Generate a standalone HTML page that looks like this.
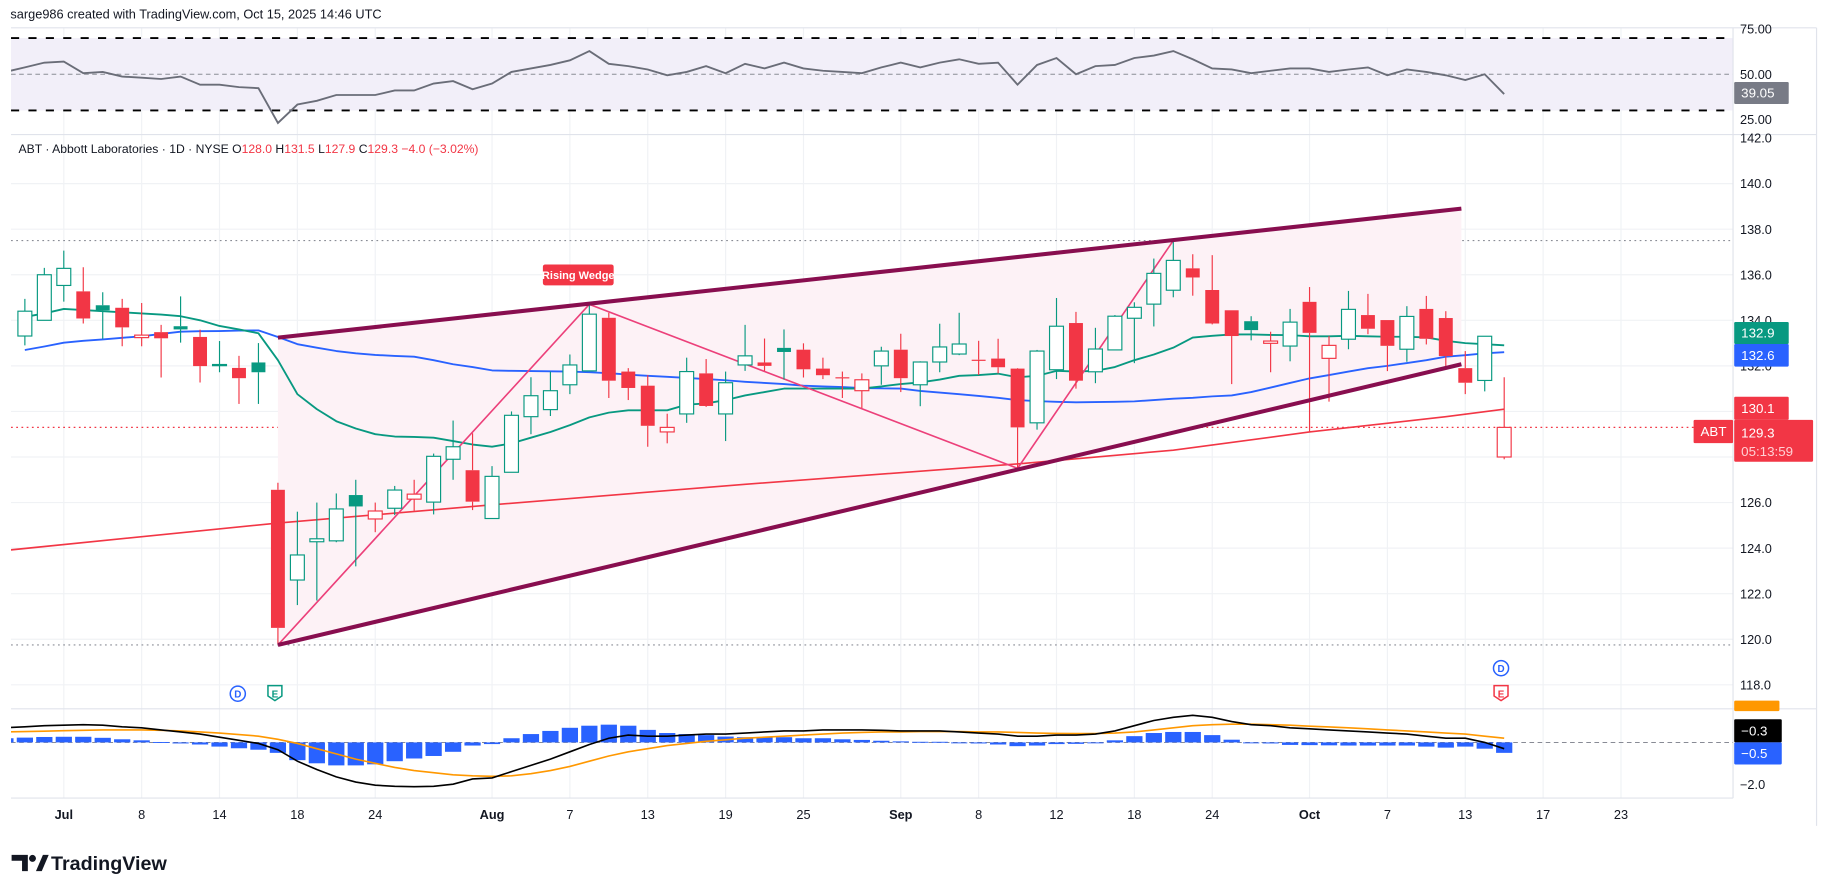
<!DOCTYPE html>
<html><head><meta charset="utf-8">
<style>
html,body{margin:0;padding:0;background:#fff;}
svg{display:block;font-family:"Liberation Sans",sans-serif;}
</style></head>
<body>
<svg id="chart" width="1827" height="896" viewBox="0 0 1575 772.4" preserveAspectRatio="none" xmlns="http://www.w3.org/2000/svg">
<defs><clipPath id="plotclip"><rect x="9.5" y="24" width="1484.5" height="664"/></clipPath></defs>
<rect x="0" y="0" width="1575" height="772.4" fill="#fff"/>
<text x="9" y="16" font-size="11" fill="#131722">sarge986 created with TradingView.com, Oct 15, 2025 14:46 UTC</text>
<g id="grid"></g>
<rect x="9.5" y="32.8" width="1484.5" height="62.4" fill="#f2eff9"/>
<g id="rsi" clip-path="url(#plotclip)"></g>
<line x1="9.5" y1="116" x2="1566" y2="116" stroke="#e0e3eb" stroke-width="1"/>
<line x1="9.5" y1="24" x2="1566" y2="24" stroke="#e0e3eb" stroke-width="1"/>
<line x1="9.5" y1="611" x2="1566" y2="611" stroke="#e0e3eb" stroke-width="1"/>
<line x1="9.5" y1="688" x2="1494" y2="688" stroke="#e0e3eb" stroke-width="1"/>
<line x1="1494" y1="24" x2="1494" y2="688" stroke="#e0e3eb" stroke-width="1"/>
<line x1="1566" y1="24" x2="1566" y2="712" stroke="#e0e3eb" stroke-width="1"/>
<g id="main" clip-path="url(#plotclip)"></g>
<g id="macd" clip-path="url(#plotclip)"></g>
<g id="axes"></g>
<text x="16" y="132" font-size="10.5" fill="#131722">ABT · Abbott Laboratories · 1D · NYSE  <tspan>O</tspan><tspan fill="#f23645">128.0</tspan><tspan>  H</tspan><tspan fill="#f23645">131.5</tspan><tspan>  L</tspan><tspan fill="#f23645">127.9</tspan><tspan>  C</tspan><tspan fill="#f23645">129.3  −4.0 (−3.02%)</tspan></text>
<g>
<path d="M10 737 h14 v14 h-5 v-9 h-9 z" fill="#131722"/><circle cx="28" cy="740" r="3" fill="#131722"/><path d="M31 751 l6 -14 h5 l-6 14 z" fill="#131722"/>
<text x="44" y="750" font-size="17" font-weight="bold" fill="#131722">TradingView</text></g>
</svg>
<script>
const NS="http://www.w3.org/2000/svg";
const candleStart=-2;
const opens=[133.31,134.0,135.53,135.27,134.66,134.55,133.24,133.48,133.74,133.27,132.03,131.91,132.15,126.56,122.6,124.28,124.32,126.33,125.28,125.75,126.15,126.02,127.9,127.42,125.3,127.33,129.77,130.08,131.17,131.78,134.11,131.75,131.13,129.1,129.89,131.67,129.89,132.04,132.15,132.79,132.71,131.88,131.5,130.91,132.0,132.71,131.17,132.17,132.52,132.27,132.32,131.88,129.5,131.83,133.88,131.74,132.70,134.09,134.71,135.32,136.28,135.33,134.44,133.96,132.99,132.87,134.81,132.33,133.17,134.23,134.01,132.73,134.5,134.1,131.9,131.36,128.0];
const highs=[134.94,136.3,137.06,136.33,135.23,134.94,134.76,133.80,135.05,133.59,133.09,132.44,133.0,126.87,125.6,126.0,126.4,127.0,126.0,126.73,127.0,128.15,129.6,129.04,127.6,130.0,131.5,131.75,132.5,134.69,134.33,131.9,131.6,129.9,132.36,132.3,131.75,133.8,133.2,133.6,132.99,132.36,131.75,131.67,132.84,133.41,132.2,133.85,134.33,133.1,133.19,131.9,132.7,134.98,134.37,133.67,134.23,134.79,136.71,137.5,136.9,136.86,134.44,134.18,133.5,134.5,135.46,133.31,135.29,135.16,134.01,134.62,135.07,134.4,132.65,133.3,131.5];
const lows=[132.90,134.0,134.82,133.86,133.19,132.86,132.86,131.49,133.02,131.27,131.72,130.33,130.33,119.8,121.5,121.7,124.26,123.2,124.7,125.45,125.64,125.48,127.0,125.67,125.3,127.33,129.0,129.8,130.76,131.78,130.59,130.5,128.45,128.6,129.5,130.2,128.7,131.78,131.78,131.4,131.49,131.42,130.59,130.15,131.17,130.85,130.23,131.72,132.47,131.6,131.67,127.5,129.2,131.42,131.0,131.24,132.7,132.12,133.73,135.01,135.08,133.82,131.2,133.12,131.72,132.2,129.1,130.43,132.73,133.39,131.77,132.18,132.94,131.96,130.76,130.88,127.9];
const closes=[134.40,136.0,136.28,134.08,134.44,133.69,133.35,133.21,133.60,131.99,132.06,131.46,131.72,120.5,123.7,124.41,125.72,125.83,125.63,126.55,126.37,128.03,128.45,126.04,127.15,129.83,130.69,130.91,132.04,134.27,131.35,131.03,129.37,129.3,131.75,130.24,131.26,132.44,132.0,132.61,131.85,131.59,131.46,131.39,132.65,131.46,132.17,132.83,132.96,132.24,131.94,129.3,132.65,133.74,131.35,132.74,134.18,134.57,136.06,136.63,135.88,133.86,133.31,133.57,133.09,133.92,133.45,132.9,134.48,133.63,132.88,134.17,133.19,132.43,131.26,133.3,129.3];
const emaGreen=[134.15,134.3,134.5,134.45,134.4,134.35,134.3,134.25,134.18,134.0,133.75,133.6,133.43,132.25,130.76,130.1,129.57,129.25,129.0,128.9,128.88,128.85,128.7,128.55,128.45,128.6,128.85,129.1,129.4,129.74,129.95,130.05,130.05,130.05,130.3,130.35,130.5,130.7,130.85,131.0,131.0,131.0,131.0,131.0,131.1,131.2,131.27,131.4,131.56,131.6,131.66,131.5,131.56,131.78,131.75,131.78,131.95,132.25,132.5,132.8,133.24,133.32,133.38,133.38,133.36,133.35,133.3,133.3,133.32,133.3,133.28,133.28,133.25,133.1,133.0,132.95,132.9];
const smaBlue=[132.7,132.85,133.02,133.1,133.16,133.23,133.3,133.4,133.5,133.52,133.53,133.55,133.56,133.27,132.95,132.8,132.65,132.55,132.48,132.44,132.4,132.25,132.07,131.95,131.8,131.78,131.77,131.76,131.75,131.72,131.68,131.62,131.56,131.52,131.47,131.42,131.37,131.3,131.25,131.2,131.13,131.1,131.07,131.03,131.01,131.0,130.9,130.83,130.76,130.68,130.6,130.5,130.45,130.42,130.4,130.41,130.42,130.44,130.5,130.56,130.6,130.66,130.7,130.85,131.05,131.25,131.45,131.6,131.75,131.9,132.0,132.12,132.25,132.4,132.47,132.55,132.6];
const sma200Idx=[-3,11,22,35,49,57,64,71,74];
const sma200Val=[123.9,125.1,125.9,126.8,127.7,128.3,129.1,129.77,130.1];
const indStart=-3;
const rsiValues=[51.3,53.8,56.4,57,50.6,51.3,48.7,48.1,47.4,48.7,44.2,44.2,42.9,42.3,23.1,33.3,35.3,38.5,38.5,38.5,41,41,44.9,46.2,41.7,44.9,51.3,53.2,55.1,57.7,62.8,55.8,54.5,52.6,49.4,51.3,54.5,50.6,55.8,53.2,56.4,53.2,51.9,51.3,50.6,53.8,56.4,53.8,56.4,58.3,55.8,56.4,44.2,55.1,59,50,54.5,55.1,59,60.3,62.8,58.3,53.2,52.6,50.6,51.9,53.2,53.2,51.3,52.6,53.8,49.4,52.6,51.3,49.4,46.8,50,39.05];
const macdValues=[0.7,0.75,0.8,0.83,0.85,0.82,0.75,0.7,0.6,0.5,0.4,0.25,0.1,-0.05,-0.35,-0.9,-1.3,-1.65,-1.9,-2.05,-2.1,-2.12,-2.1,-2.0,-1.75,-1.7,-1.4,-1.1,-0.8,-0.45,-0.1,0.2,0.35,0.3,0.3,0.35,0.4,0.4,0.45,0.5,0.55,0.55,0.6,0.6,0.6,0.58,0.55,0.55,0.55,0.5,0.45,0.4,0.3,0.3,0.35,0.35,0.4,0.55,0.8,1.05,1.2,1.3,1.2,1.0,0.85,0.8,0.7,0.65,0.6,0.55,0.5,0.45,0.4,0.3,0.2,0.2,0.0,-0.3];
const signalValues=[0.5,0.52,0.54,0.56,0.58,0.6,0.6,0.6,0.58,0.55,0.5,0.45,0.38,0.3,0.15,-0.05,-0.3,-0.55,-0.8,-1.0,-1.2,-1.35,-1.45,-1.55,-1.6,-1.62,-1.6,-1.5,-1.35,-1.15,-0.9,-0.65,-0.45,-0.3,-0.15,-0.05,0.05,0.12,0.2,0.25,0.3,0.35,0.4,0.45,0.48,0.5,0.5,0.52,0.52,0.52,0.5,0.5,0.48,0.45,0.43,0.42,0.42,0.45,0.5,0.6,0.7,0.8,0.85,0.87,0.87,0.85,0.82,0.78,0.74,0.7,0.65,0.6,0.55,0.5,0.45,0.4,0.3,0.2];
const histValues=[0.2,0.23,0.26,0.27,0.27,0.22,0.15,0.1,0.02,-0.05,-0.1,-0.2,-0.28,-0.35,-0.5,-0.85,-1.0,-1.1,-1.1,-1.05,-0.9,-0.77,-0.65,-0.45,-0.15,-0.08,0.2,0.4,0.55,0.7,0.8,0.85,0.8,0.6,0.45,0.4,0.35,0.28,0.25,0.25,0.25,0.2,0.2,0.15,0.12,0.08,0.05,0.03,0.03,-0.02,-0.05,-0.1,-0.18,-0.15,-0.08,-0.07,-0.02,0.1,0.3,0.45,0.5,0.5,0.35,0.13,-0.02,-0.05,-0.12,-0.13,-0.14,-0.15,-0.15,-0.15,-0.15,-0.2,-0.25,-0.2,-0.3,-0.5];
const priceTicks=[142,140,138,136,134,132,130,128,126,124,122,120,118];
const dateTickIdx=[0,4,8,12,16,22,26,30,34,38,43,47,51,55,59,64,68,72,76,80];
const dateTickLabels=["Jul","8","14","18","24","Aug","7","13","19","25","Sep","8","12","18","24","Oct","7","13","17","23"];
const rsiTicks=[75,50,25];
const rsiTickLabels=["75.00","50.00","25.00"];
const wedgeUpper=[[11,133.24],[71.8,138.9]];
const wedgeLower=[[11,119.75],[71.8,132.07]];
const zigzag=[[11,119.75],[27,134.7],[49,127.5],[57,137.5]];
const X=i=>55+i*16.78;
const Y=p=>119+(142-p)*19.64;
const RY=v=>64-(v-50)*1.56;
const MY=v=>640-v*18;
function el(tag,attrs,parent){const e=document.createElementNS(NS,tag);for(const k in attrs)e.setAttribute(k,attrs[k]);parent.appendChild(e);return e;}
const grid=document.getElementById('grid'),main=document.getElementById('main'),rsiG=document.getElementById('rsi'),macdG=document.getElementById('macd'),axes=document.getElementById('axes');
dateTickIdx.forEach((d,k)=>{const l=el('line',{x1:X(d),x2:X(d),y1:24,y2:688,stroke:'#f0f2f5','stroke-width':1},grid);


const t=el('text',{x:X(d),y:706,'font-size':11,'text-anchor':'middle',fill:'#131722','font-weight':(isNaN(+dateTickLabels[k])?'bold':'normal')},axes);t.textContent=dateTickLabels[k];

});
priceTicks.forEach(p=>{if(p<142){const l=el('line',{x1:9.5,x2:1494,y1:Y(p),y2:Y(p),stroke:'#f0f2f5','stroke-width':1},grid);

}
const t=el('text',{x:1500,y:Y(p)+4,'font-size':11,fill:'#131722'},axes);t.textContent=p.toFixed(1);

});
rsiTicks.forEach((v,k)=>{const t=el('text',{x:1500,y:RY(v)+4,'font-size':11,fill:'#131722'},axes);t.textContent=rsiTickLabels[k];

});
{const t=el('text',{x:1500,y:MY(-2)+4,'font-size':11,fill:'#131722'},axes);t.textContent='−2.0';

}
[70,30].forEach(b=>{const l=el('line',{x1:9.5,x2:1494,y1:RY(b),y2:RY(b),stroke:'#000','stroke-width':1.6,'stroke-dasharray':'7,8'},rsiG);

});
const mid=el('line',{x1:9.5,x2:1494,y1:RY(50),y2:RY(50),stroke:'#8a8d96','stroke-width':0.8,'stroke-dasharray':'4,3'},rsiG);


let rp=rsiValues.map((v,i)=>X(indStart+i).toFixed(1)+','+RY(v).toFixed(1)).join(' ');
const rl=el('polyline',{points:rp,fill:'none',stroke:'#6a6d78','stroke-width':1.6},rsiG);


[[137.5,'#8a8d96'],[119.75,'#8a8d96'],[129.3,'#f23645']].forEach(a=>{const l=el('line',{x1:9.5,x2:1494,y1:Y(a[0]),y2:Y(a[0]),stroke:a[1],'stroke-width':1,'stroke-dasharray':'1.5,3'},main);

});
const wf=el('polygon',{points:[wedgeUpper[0],wedgeUpper[1],wedgeLower[1],wedgeLower[0]].map(p=>X(p[0])+','+Y(p[1])).join(' '),fill:'#fdf2f6'},main);


function line(idxStart,vals,color,w,name){const pts=vals.map((v,i)=>X(idxStart+i).toFixed(1)+','+Y(v).toFixed(1)).join(' ');const l=el('polyline',{points:pts,fill:'none',stroke:color,'stroke-width':w,'stroke-linejoin':'round'},main);

}
{const pts=sma200Idx.map((d,i)=>X(d).toFixed(1)+','+Y(sma200Val[i]).toFixed(1)).join(' ');const l=el('polyline',{points:pts,fill:'none',stroke:'#f23645','stroke-width':1.4},main);

}
line(candleStart,smaBlue,'#2962ff',1.6,'sma50-line');
line(candleStart,emaGreen,'#089981',1.6,'ema20-line');
{const l=el('polyline',{points:zigzag.map(p=>X(p[0])+','+Y(p[1])).join(' '),fill:'none',stroke:'#ec407a','stroke-width':1.4},main);

}
for(let i=0;i<opens.length;i++){const d=candleStart+i,o=opens[i],h=highs[i],lo=lows[i],c=closes[i];const prev=i?closes[i-1]:133.0;
const col=c>=prev?'#089981':'#f23645';const hollow=c>o;const x=X(d);
const g=el('g',{},main);


const top=Y(Math.max(o,c)),bot=Y(Math.min(o,c));
el('line',{x1:x,x2:x,y1:Y(h),y2:top,stroke:col,'stroke-width':1},g);
el('line',{x1:x,x2:x,y1:bot,y2:Y(lo),stroke:col,'stroke-width':1},g);
el('rect',{x:x-6,y:top,width:12,height:Math.max(bot-top,1),fill:hollow?'#fff':col,stroke:col,'stroke-width':hollow?1:0},g);}
[wedgeUpper,wedgeLower].forEach(w=>{const l=el('line',{x1:X(w[0][0]),y1:Y(w[0][1]),x2:X(w[1][0]),y2:Y(w[1][1]),stroke:'#880e4f','stroke-width':3.5},main);

});
{const g=el('g',{},main);


el('rect',{x:468,y:228,width:61,height:18,rx:2,fill:'#f23645'},g);const t=el('text',{x:498.5,y:240.5,'font-size':9.5,'text-anchor':'middle',fill:'#fff','font-weight':'bold'},g);t.textContent='Rising Wedge';}
function marker(x,y,letter,color,shape,name){const g=el('g',{},main);


if(shape==='c')el('circle',{cx:x,cy:y,r:6.5,fill:'#fff',stroke:color,'stroke-width':1.3},g);
else el('path',{d:`M${x-6} ${y-7} h12 v9 l-6 4 l-6 -4 z`,fill:'#fff',stroke:color,'stroke-width':1.3},g);
const t=el('text',{x:x,y:y+3.3,'font-size':8.5,'text-anchor':'middle',fill:color,'font-weight':'bold'},g);t.textContent=letter;}
marker(205,598,'D','#2962ff','c','dividend-marker');
marker(237,598,'E','#089981','p','earnings-marker');
marker(1294,576,'D','#2962ff','c','dividend-marker');
marker(1294,598,'E','#f23645','p','earnings-marker');
const zl=el('line',{x1:9.5,x2:1494,y1:MY(0),y2:MY(0),stroke:'#787b86','stroke-width':0.8,'stroke-dasharray':'4,3'},macdG);


histValues.forEach((v,i)=>{const x=X(indStart+i);const y0=MY(0),y1=MY(v);const r=el('rect',{x:x-7,y:Math.min(y0,y1),width:14,height:Math.max(Math.abs(y1-y0),0.8),fill:'#2962ff'},macdG);

});
[[signalValues,'#ff9800','macd-signal-line'],[macdValues,'#000','macd-line']].forEach(a=>{const pts=a[0].map((v,i)=>X(indStart+i).toFixed(1)+','+MY(v).toFixed(1)).join(' ');const l=el('polyline',{points:pts,fill:'none',stroke:a[1],'stroke-width':1.4},macdG);

});
function badge(x,y,w,h,fill,txt,name,color){const g=el('g',{},axes);


el('rect',{x:x,y:y,width:w,height:h,fill:fill,rx:1},g);const t=el('text',{x:x+6,y:y+h/2+4,'font-size':11.5,fill:color||'#fff'},g);t.textContent=txt;return g;}
badge(1495,70.7,47,19,'#787b86','39.05','rsi-value-label');
badge(1495,277.6,47,19,'#089981','132.9','ema-value-label');
badge(1495,296.5,47,19.5,'#2962ff','132.6','sma50-value-label');
badge(1495,342,47,20,'#f23645','130.1','sma200-value-label');
{const g=badge(1495,362,68,36,'#f23645','','price-value-label');const t1=el('text',{x:1501,y:377,'font-size':11.5,fill:'#fff'},g);t1.textContent='129.3';const t2=el('text',{x:1501,y:393,'font-size':11.5,fill:'#ffd0d4'},g);t2.textContent='05:13:59';}
badge(1460,362,34,20,'#f23645','ABT','symbol-badge');
badge(1495,604,39,9,'#ff9800','','macd-signal-value-label');
badge(1495,620,41,20,'#000','−0.3','macd-value-label');
badge(1495,640,41,19,'#2962ff','−0.5','macd-hist-value-label');
</script>
</body></html>
